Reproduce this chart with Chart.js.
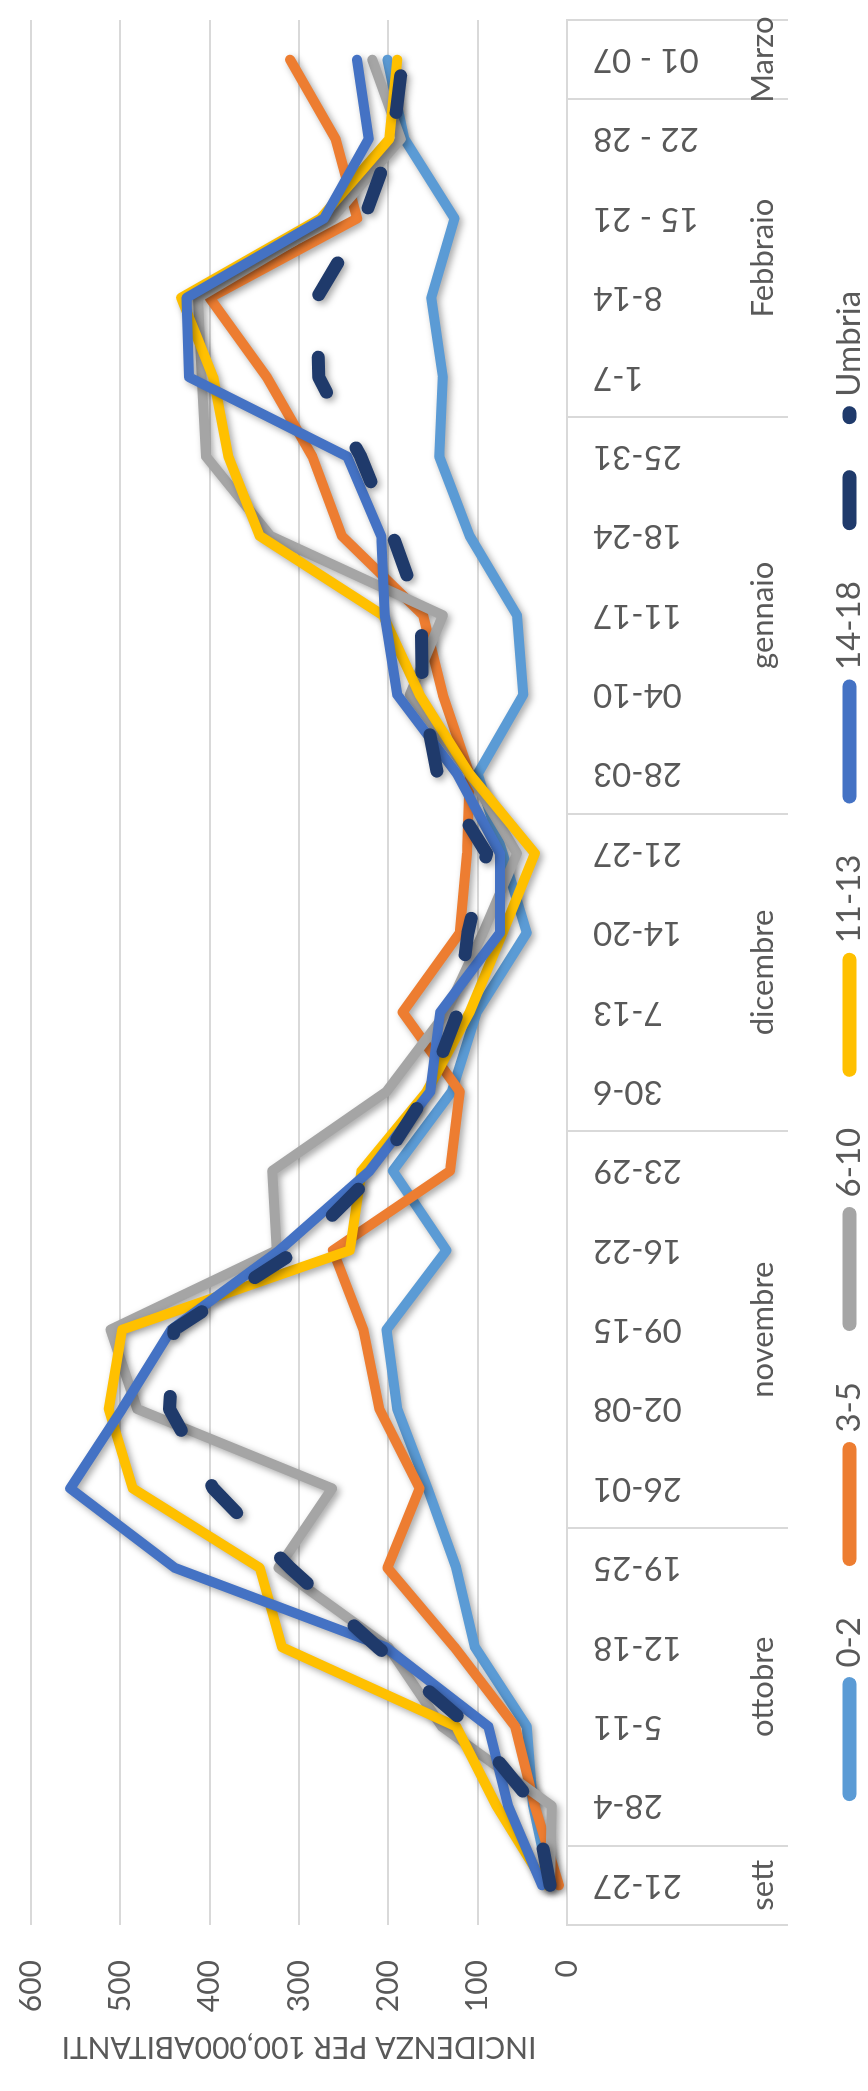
<!DOCTYPE html>
<html><head><meta charset="utf-8">
<script src="https://cdn.jsdelivr.net/npm/chart.js@4.4.1/dist/chart.umd.min.js"></script>
<style>
html,body{margin:0;padding:0;background:#fff;overflow:hidden;width:868px;height:2091px;}
#wrap{position:absolute;left:0;top:0;width:2091px;height:868px;transform-origin:0 0;transform:translateY(2091px) rotate(-90deg);background:#fff;}
canvas{display:block;}
</style></head><body>
<div id="wrap"><canvas id="c" width="2091" height="868"></canvas></div>
<script>
const weeks = ['21-27','28-4','5-11','12-18','19-25','26-01','02-08','09-15','16-22','23-29','30-6','7-13','14-20','21-27','28-03','04-10','11-17','18-24','25-31','1-7','8-14','15 - 21','22 - 28','01 - 07'];
const monthNames = ['sett','ottobre','novembre','dicembre','gennaio','Febbraio','Marzo'];
const monthWeeks = [1,4,5,4,5,4,1];
const valueTicks = [0,100,200,300,400,500,600];
const seriesNames = ['0-2','3-5','6-10','11-13','14-18','Umbria'];

const age0_2   = [19, 38, 45, 103, 124, 156, 190, 202, 135, 195, 129, 101, 45, 72, 100, 49, 56, 109, 143, 139, 152, 126, 182, 201];
const age3_5   = [9, 36, 58, 126, 201, 165, 210, 228, 262, 131, 120, 184, 120, 112, 109, 139, 161, 252, 285, 336, 400, 235, 259, 310];
const age6_10  = [19, 17, 140, 200, 323, 263, 481, 511, 325, 330, 202, 135, 94, 56, 109, 176, 139, 332, 404, 409, 413, 263, 186, 218];
const age11_13 = [24, 79, 124, 319, 344, 486, 513, 498, 243, 230, 157, 109, 72, 36, 109, 165, 206, 344, 379, 396, 432, 276, 199, 190];
const age14_18 = [28, 66, 88, 203, 439, 556, 498, 443, 322, 221, 153, 142, 75, 75, 123, 190, 204, 208, 246, 423, 426, 272, 222, 235];
const umbria   = [19, 36, 109, 212, 310, 396, 445, 440, 302, 213, 156, 122, 111, 90, 145, 162, 163, 195, 231, 278, 280, 227, 195, 184];

const seriesValues = [age0_2, age3_5, age6_10, age11_13, age14_18, umbria];
const seriesColors = ['#5B9BD5','#ED7D31','#A5A5A5','#FFC000','#4472C4','#1F3A6B'];

const monthCenters = [];
const monthBounds = [0];
let acc = 0;
monthWeeks.forEach(n => { monthCenters.push(acc + (n - 1) / 2); acc += n; monthBounds.push(acc); });

const GRID = '#D9D9D9';
const TEXT = '#595959';
const FONT = 'Lato';

const datasets = seriesNames.map((name, i) => {
  const isUmbria = name === 'Umbria';
  return {
    label: name,
    data: seriesValues[i],
    borderColor: seriesColors[i],
    backgroundColor: seriesColors[i],
    borderWidth: isUmbria ? 13 : 10,
    borderDash: isUmbria ? [37, 63] : [],
    borderCapStyle: 'round',
    borderJoinStyle: 'round',
    pointRadius: 0,
    pointHoverRadius: 0,
    tension: 0,
    fill: false,
    order: seriesNames.length - i
  };
});

const shadowPlugin = {
  id: 'lineShadow',
  beforeDatasetDraw(chart) {
    const ctx = chart.ctx;
    ctx.save();
    ctx.shadowColor = 'rgba(0,0,0,0.35)';
    ctx.shadowBlur = 7;
    ctx.shadowOffsetX = -3;
    ctx.shadowOffsetY = 3;
  },
  afterDatasetDraw(chart) { chart.ctx.restore(); }
};

// second-level category labels (months), placed through the x scale
const monthLabelPlugin = {
  id: 'monthLabels',
  afterDraw(chart) {
    const xs = chart.scales.x;
    const ctx = chart.ctx;
    ctx.save();
    ctx.font = '31px ' + FONT;
    ctx.fillStyle = TEXT;
    ctx.textAlign = 'center';
    ctx.textBaseline = 'middle';
    const y = chart.chartArea.bottom + 196;
    monthNames.forEach((m, i) => ctx.fillText(m, xs.getPixelForValue(monthCenters[i]), y));
    ctx.restore();
  }
};

function build() {
  new Chart(document.getElementById('c'), {
    type: 'line',
    data: { labels: weeks, datasets },
    plugins: [shadowPlugin, monthLabelPlugin],
    options: {
      responsive: false,
      animation: false,
      devicePixelRatio: 1,
      layout: { padding: { left: 26, right: 20, top: 31, bottom: -8 } },
      plugins: {
        tooltip: { enabled: false },
        legend: {
          position: 'bottom',
          labels: {
            usePointStyle: true,
            pointStyleWidth: 110,
            padding: 58,
            color: TEXT,
            font: { family: FONT, size: 33 },
            generateLabels: (chart) => Chart.defaults.plugins.legend.labels.generateLabels(chart)
              .map(l => Object.assign({}, l, {
                pointStyle: 'line', lineWidth: 14, lineCap: 'round',
                lineDash: l.text === 'Umbria' ? [46, 60] : []
              }))
              .sort((a, b) => a.datasetIndex - b.datasetIndex)
          }
        }
      },
      scales: {
        x: {
          type: 'category',
          offset: true,
          position: 'bottom',
          grid: {
            offset: true,
            drawOnChartArea: false,
            drawTicks: true,
            tickLength: 221,
            lineWidth: 2,
            color: (c) => (c.index === undefined || monthBounds.includes(c.index)) ? GRID : 'rgba(0,0,0,0)'
          },
          border: { display: true, color: GRID, width: 2 },
          ticks: {
            autoSkip: false, minRotation: 90, maxRotation: 90, padding: -195,
            color: TEXT, font: { family: FONT, size: 33 }
          },
          afterFit: (s) => { s.height = 208; s.paddingLeft = 0; s.paddingRight = 0; }
        },
        y: {
          min: valueTicks[0],
          max: valueTicks[valueTicks.length - 1],
          afterBuildTicks: (s) => { s.ticks = valueTicks.map(v => ({ value: v })); },
          grid: { color: GRID, lineWidth: 2, drawTicks: false },
          border: { display: false },
          ticks: { padding: 35, color: TEXT, font: { family: FONT, size: 30 } },
          title: {
            display: true,
            text: 'INCIDENZA PER 100,000ABITANTI',
            color: TEXT,
            font: { family: FONT, size: 30 },
            padding: { top: 0, bottom: 0 }
          },
          afterFit: (s) => { s.width = 140; s.paddingTop = 0; s.paddingBottom = 0; }
        }
      }
    }
  });
}

if (document.fonts && document.fonts.load) {
  Promise.all([document.fonts.load('33px Lato'), document.fonts.load('30px Lato')]).then(build, build);
} else { build(); }
</script>
</body></html>
